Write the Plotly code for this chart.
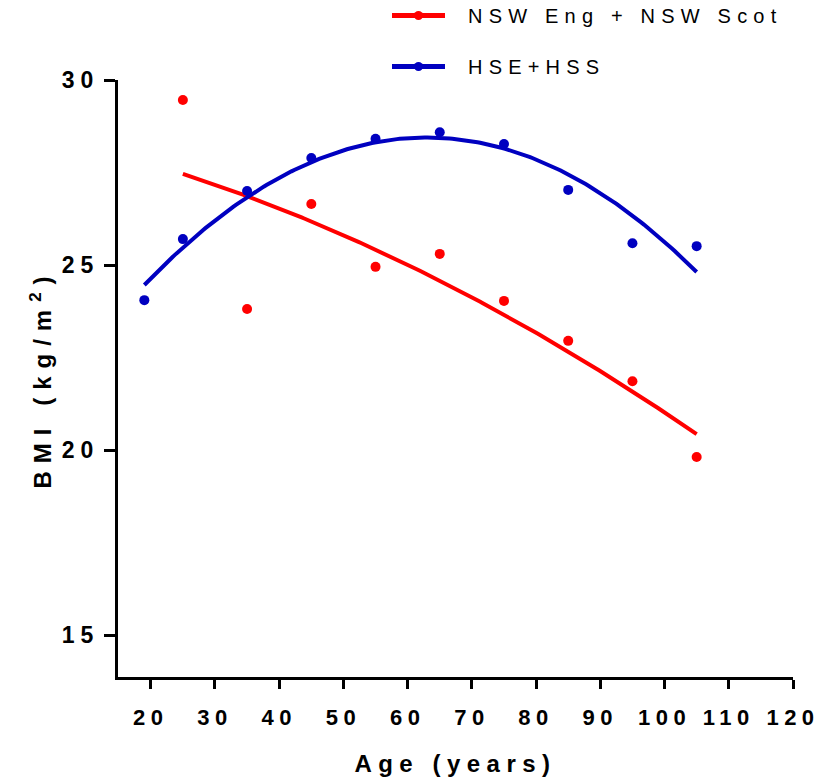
import numpy as np
import plotly.graph_objects as go

# ---- data ----
age_nsw = [25, 35, 45, 55, 65, 75, 85, 95, 105]
bmi_nsw = [29.46, 23.81, 26.65, 24.95, 25.30, 24.03, 22.95, 21.86, 19.81]

age_hse = [19, 25, 35, 45, 55, 65, 75, 85, 95, 105]
bmi_hse = [24.05, 25.70, 27.00, 27.89, 28.41, 28.59, 28.27, 27.03, 25.59, 25.51]

x_ticks = [20, 30, 40, 50, 60, 70, 80, 90, 100, 110, 120]
y_ticks = [15, 20, 25, 30]

name_nsw = "NSW Eng + NSW Scot"
name_hse = "HSE+HSS"
RED = "#ff0000"
BLUE = "#0000c0"

def quad_fit(x, y):
    c = np.polyfit(x, y, 2)
    xs = np.linspace(min(x), max(x), 200)
    return xs, np.polyval(c, xs)

fx_n, fy_n = quad_fit(age_nsw, bmi_nsw)
fx_h, fy_h = quad_fit(age_hse, bmi_hse)

FONT = "Liberation Sans, Arial, sans-serif"

fig = go.Figure()
for fx, fy, ax, ay, col, nm, grp in [(fx_n, fy_n, age_nsw, bmi_nsw, RED, name_nsw, "a"),
                                      (fx_h, fy_h, age_hse, bmi_hse, BLUE, name_hse, "b")]:
    fig.add_trace(go.Scatter(x=fx, y=fy, mode="lines", line=dict(color=col, width=4),
                             name=nm, legendgroup=grp, showlegend=False, hoverinfo="skip"))
    fig.add_trace(go.Scatter(x=ax, y=ay, mode="markers", marker=dict(color=col, size=10),
                             name=nm, legendgroup=grp, showlegend=False))
    # legend-only entry (line with dot)
    fig.add_trace(go.Scatter(x=[None], y=[None], mode="lines+markers",
                             line=dict(color=col, width=5), marker=dict(color=col, size=9),
                             name=nm, legendgroup=grp, showlegend=True))

PLOT_L, PLOT_T, PLOT_W, PLOT_H = 118, 80, 675, 597

fig.update_layout(
    width=819, height=780,
    margin=dict(l=118, r=26, t=80, b=103),
    plot_bgcolor="white", paper_bgcolor="white",
    font=dict(family=FONT, color="black"),
    showlegend=True,
    # legend is laid out inside the plot (so it does not push the margins) and
    # lifted into the top margin after rendering (see post script)
    legend=dict(x=(387 - PLOT_L) / PLOT_W, y=1.0,
                xanchor="left", yanchor="top",
                font=dict(family=FONT, size=20, color="black"),
                tracegroupgap=22, itemwidth=53, bgcolor="rgba(0,0,0,0)"),
    xaxis=dict(range=[14.9, 120], tickvals=x_ticks, ticktext=[str(v) for v in x_ticks],
               showline=True, linecolor="black", linewidth=3, mirror=False,
               ticks="outside", ticklen=9, tickwidth=3, tickcolor="black",
               ticklabelstandoff=10, automargin=False,
               showgrid=False, zeroline=False,
               tickfont=dict(family=FONT, size=22, weight="bold"),
               title=dict(text="Age (years)", font=dict(family=FONT, size=24, weight="bold"),
                          standoff=26)),
    yaxis=dict(range=[13.865, 30], tickvals=y_ticks, ticktext=[str(v) for v in y_ticks],
               showline=True, linecolor="black", linewidth=3,
               ticks="outside", ticklen=11, tickwidth=3, tickcolor="black",
               showgrid=False, zeroline=False, automargin=False,
               tickfont=dict(family=FONT, size=23, weight="bold"),
               title=dict(text="BMI (kg/m<sup>2</sup>)",
                          font=dict(family=FONT, size=24, weight="bold"), standoff=16)),
)

post = """
var gd = document.getElementById('{plot_id}');
function ls(){
  gd.querySelectorAll('.xtick text').forEach(function(t){t.style.letterSpacing='5.5px';});
  gd.querySelectorAll('.ytick text').forEach(function(t){t.style.letterSpacing='6px';});
  gd.querySelectorAll('text.xtitle').forEach(function(t){t.style.letterSpacing='6.5px';});
  gd.querySelectorAll('text.ytitle').forEach(function(t){t.style.letterSpacing='8px';});
  gd.querySelectorAll('text.legendtext').forEach(function(t){
    t.style.letterSpacing='6.2px';
    var x = parseFloat(t.getAttribute('x'));
    if (t.__sx !== x) { x = x + 18; t.setAttribute('x', x); t.__sx = x; }
  });
  gd.querySelectorAll('.legend [clip-path]').forEach(function(e){e.removeAttribute('clip-path');});
  gd.querySelectorAll('g.legend').forEach(function(g){
    var tr = g.getAttribute('transform') || '';
    var m = tr.match(/translate\\(\\s*([-\\d.e]+)[ ,]+([-\\d.e]+)\\s*\\)/);
    if (m) {
      var x = parseFloat(m[1]), y = parseFloat(m[2]);
      if (g.__ty !== y) { y = y - 84; g.setAttribute('transform', 'translate(' + x + ',' + y + ')'); g.__ty = y; }
    }
  });
}
ls();
gd.on('plotly_afterplot', ls);
"""
fig.write_html("out.html", post_script=post)
